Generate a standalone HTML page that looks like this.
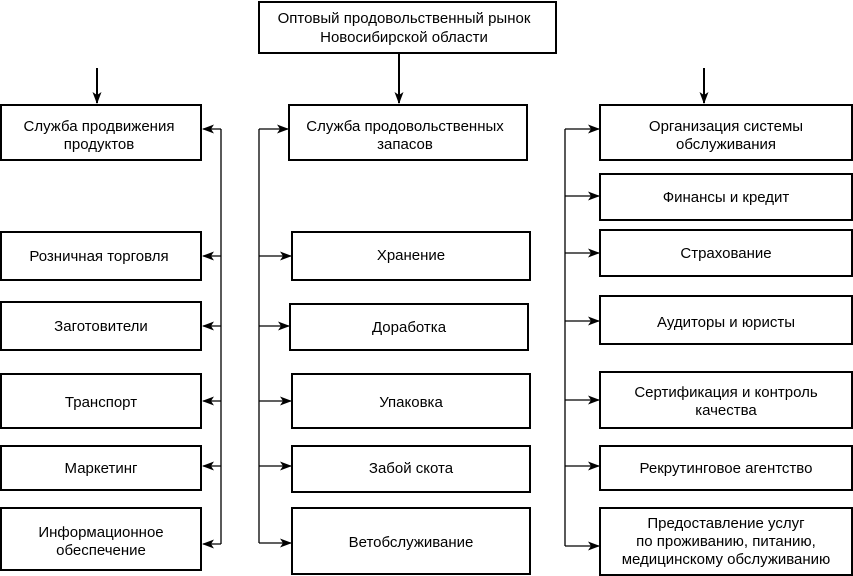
<!DOCTYPE html>
<html><head><meta charset="utf-8"><style>
html,body{margin:0;padding:0;background:#fff;}
svg{display:block;}
text{font-family:"Liberation Sans",sans-serif;font-size:15px;fill:#000;text-anchor:middle;}
</style></head><body>
<svg width="853" height="576" viewBox="0 0 853 576" xmlns="http://www.w3.org/2000/svg">
<defs>
<marker id="a" markerWidth="12" markerHeight="9" refX="11" refY="4.5" orient="auto" markerUnits="userSpaceOnUse">
<path d="M0,0 L12,4.5 L0,9 L3,4.5 z" fill="#000"/></marker>
</defs>
<g fill="none" stroke="#000" stroke-width="2">
<rect x="259" y="2" width="297" height="51"/>
<rect x="1" y="105" width="200" height="55"/>
<rect x="1" y="232" width="200" height="48"/>
<rect x="1" y="302" width="200" height="48"/>
<rect x="1" y="374" width="200" height="54"/>
<rect x="1" y="446" width="200" height="44"/>
<rect x="1" y="508" width="200" height="62"/>
<rect x="289" y="105" width="238" height="55"/>
<rect x="292" y="232" width="238" height="48"/>
<rect x="290" y="304" width="238" height="46"/>
<rect x="292" y="374" width="238" height="54"/>
<rect x="292" y="446" width="238" height="46"/>
<rect x="292" y="508" width="238" height="66"/>
<rect x="600" y="105" width="252" height="55"/>
<rect x="600" y="174" width="252" height="46"/>
<rect x="600" y="230" width="252" height="46"/>
<rect x="600" y="296" width="252" height="48"/>
<rect x="600" y="372" width="252" height="56"/>
<rect x="600" y="446" width="252" height="44"/>
<rect x="600" y="508" width="252" height="67"/>
<line x1="399" y1="53" x2="399" y2="103" marker-end="url(#a)"/>
<line x1="97" y1="68" x2="97" y2="103" marker-end="url(#a)"/>
<line x1="704" y1="68" x2="704" y2="103" marker-end="url(#a)"/>
</g>
<g fill="none" stroke="#000" stroke-width="1.3">
<polyline points="221,129 221,544"/>
<line x1="221" y1="129" x2="203" y2="129" marker-end="url(#a)"/>
<line x1="221" y1="256" x2="203" y2="256" marker-end="url(#a)"/>
<line x1="221" y1="326" x2="203" y2="326" marker-end="url(#a)"/>
<line x1="221" y1="401" x2="203" y2="401" marker-end="url(#a)"/>
<line x1="221" y1="466" x2="203" y2="466" marker-end="url(#a)"/>
<line x1="221" y1="544" x2="203" y2="544" marker-end="url(#a)"/>
<polyline points="259,129 259,543"/>
<line x1="259" y1="129" x2="288" y2="129" marker-end="url(#a)"/>
<line x1="259" y1="256" x2="291" y2="256" marker-end="url(#a)"/>
<line x1="259" y1="326" x2="289" y2="326" marker-end="url(#a)"/>
<line x1="259" y1="401" x2="291" y2="401" marker-end="url(#a)"/>
<line x1="259" y1="466" x2="291" y2="466" marker-end="url(#a)"/>
<line x1="259" y1="543" x2="291" y2="543" marker-end="url(#a)"/>
<polyline points="565,129 565,546"/>
<line x1="565" y1="129" x2="599" y2="129" marker-end="url(#a)"/>
<line x1="565" y1="196" x2="599" y2="196" marker-end="url(#a)"/>
<line x1="565" y1="253" x2="599" y2="253" marker-end="url(#a)"/>
<line x1="565" y1="321" x2="599" y2="321" marker-end="url(#a)"/>
<line x1="565" y1="400" x2="599" y2="400" marker-end="url(#a)"/>
<line x1="565" y1="466" x2="599" y2="466" marker-end="url(#a)"/>
<line x1="565" y1="546" x2="599" y2="546" marker-end="url(#a)"/>
</g>
<text x="404" y="23">Оптовый продовольственный рынок</text>
<text x="404" y="42">Новосибирской области</text>
<text x="99" y="131">Служба продвижения</text>
<text x="99" y="149">продуктов</text>
<text x="99" y="261">Розничная торговля</text>
<text x="101" y="331">Заготовители</text>
<text x="101" y="407">Транспорт</text>
<text x="101" y="473">Маркетинг</text>
<text x="101" y="537">Информационное</text>
<text x="101" y="555">обеспечение</text>
<text x="405" y="131">Служба продовольственных</text>
<text x="405" y="149">запасов</text>
<text x="411" y="260">Хранение</text>
<text x="409" y="332">Доработка</text>
<text x="411" y="407">Упаковка</text>
<text x="411" y="473">Забой  скота</text>
<text x="411" y="547">Ветобслуживание</text>
<text x="726" y="131">Организация системы</text>
<text x="726" y="149">обслуживания</text>
<text x="726" y="202">Финансы и кредит</text>
<text x="726" y="258">Страхование</text>
<text x="726" y="327">Аудиторы и юристы</text>
<text x="726" y="397">Сертификация и контроль</text>
<text x="726" y="415">качества</text>
<text x="726" y="473">Рекрутинговое агентство</text>
<text x="726" y="528">Предоставление  услуг</text>
<text x="726" y="546">по проживанию, питанию,</text>
<text x="726" y="564">медицинскому обслуживанию</text>
</svg>
</body></html>
